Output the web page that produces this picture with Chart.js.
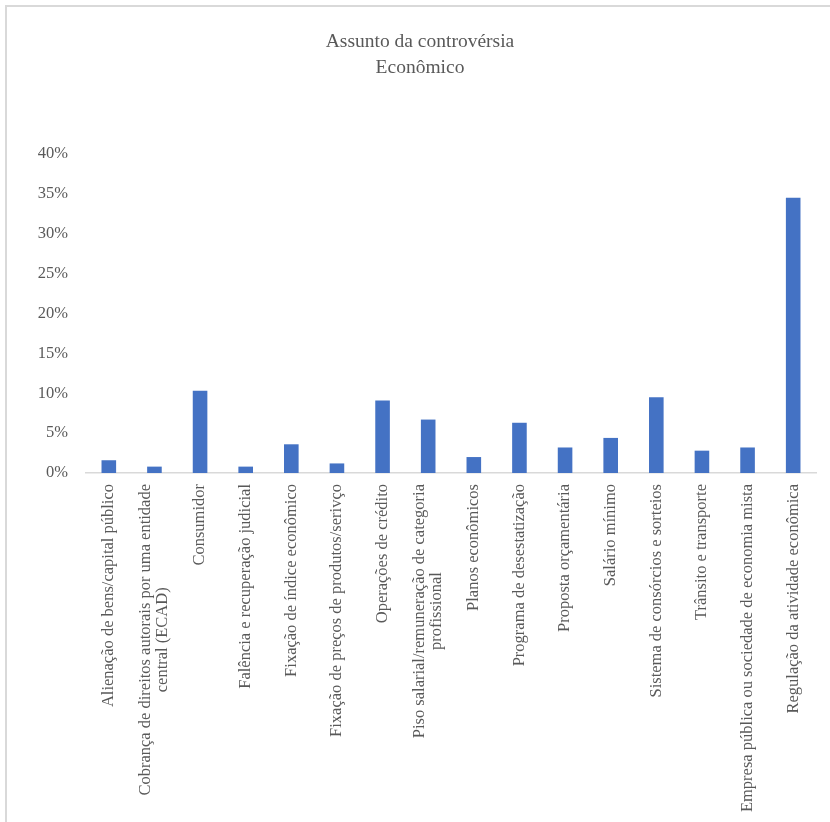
<!DOCTYPE html>
<html>
<head>
<meta charset="utf-8">
<script src="https://cdn.jsdelivr.net/npm/chart.js@4/dist/chart.umd.min.js"></script>
<style>
  body { margin: 0; background: #fff; }
  #wrap { position: relative; width: 830px; height: 822px; }
  #frame { position: absolute; left: 5px; top: 5px; right: 0; bottom: 0; border-top: 2px solid #d9d9d9; border-left: 2px solid #d9d9d9; }
  canvas { position: absolute; left: 0; top: 0; }
</style>
</head>
<body>
<div id="wrap">
  <div id="frame"></div>
  <canvas id="chart" width="830" height="822"></canvas>
</div>
<script>
const titleLines = ["Assunto da controvérsia", "Econômico"];
const categories = [
  "Alienação de bens/capital público",
  ["Cobrança de direitos autorais por uma entidade", "central (ECAD)"],
  "Consumidor",
  "Falência e recuperação judicial",
  "Fixação de índice econômico",
  "Fixação de preços de produtos/serivço",
  "Operações de crédito",
  ["Piso salarial/remuneração de categoria", "profissional"],
  "Planos econômicos",
  "Programa de desestatização",
  "Proposta orçamentária",
  "Salário mínimo",
  "Sistema de consórcios e sorteios",
  "Trânsito e transporte",
  "Empresa pública ou sociedade de economia mista",
  "Regulação da atividade econômica"
];
const shares = [1.6, 0.8, 10.3, 0.8, 3.6, 1.2, 9.1, 6.7, 2.0, 6.3, 3.2, 4.4, 9.5, 2.8, 3.2, 34.5];
const yTicks = [0, 5, 10, 15, 20, 25, 30, 35, 40];

const textColor = "#595959";
const fontFamily = '"Liberation Serif", serif';

// title + rotated category labels (extra lines centred on the first one)
const textLayer = {
  id: "textLayer",
  afterDraw(chart) {
    const ctx = chart.ctx;
    const scale = chart.scales.x;
    ctx.save();
    ctx.fillStyle = textColor;
    ctx.textAlign = "center";
    ctx.textBaseline = "middle";

    ctx.font = "19.5px " + fontFamily;
    titleLines.forEach((t, i) => ctx.fillText(t, 420, 42 + i * 26));

    const lineH = 17;
    const top = chart.chartArea.bottom + 11;
    ctx.font = "16.5px " + fontFamily;
    categories.forEach((label, i) => {
      const lines = Array.isArray(label) ? label : [label];
      const w = Math.max(...lines.map(l => ctx.measureText(l).width));
      const px = scale.getPixelForValue(i);
      lines.forEach((line, j) => {
        ctx.save();
        ctx.translate(px + (j - (lines.length - 1) / 2) * lineH, top + w / 2);
        ctx.rotate(-Math.PI / 2);
        ctx.fillText(line, 0, 0);
        ctx.restore();
      });
    });
    ctx.restore();
  }
};

new Chart(document.getElementById("chart"), {
  type: "bar",
  data: {
    labels: categories,
    datasets: [{
      data: shares,
      backgroundColor: "#4472C4",
      borderWidth: 0,
      barPercentage: 0.32,
      categoryPercentage: 1
    }]
  },
  options: {
    responsive: false,
    animation: false,
    layout: { padding: { left: 0, right: 14, top: 154, bottom: 349 } },
    plugins: {
      legend: { display: false },
      tooltip: { enabled: false },
      title: { display: false }
    },
    scales: {
      x: {
        grid: { display: false, drawTicks: false },
        border: { color: "#d9d9d9", width: 1.5 },
        ticks: { display: false }
      },
      y: {
        min: 0,
        max: 40,
        afterFit(scale) { scale.width = 86; },
        afterBuildTicks(scale) { scale.ticks = yTicks.map(v => ({ value: v })); },
        grid: { display: false, drawTicks: false },
        border: { display: false },
        ticks: {
          padding: 18,
          color: textColor,
          font: { family: fontFamily, size: 16.5 },
          callback: v => v + "%"
        }
      }
    }
  },
  plugins: [textLayer]
});
</script>
</body>
</html>
